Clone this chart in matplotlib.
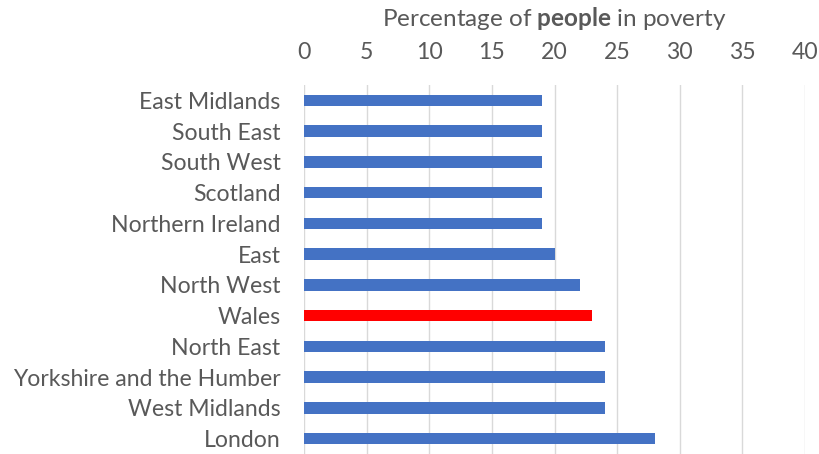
import matplotlib.pyplot as plt

regions = [
    "East Midlands", "South East", "South West", "Scotland", "Northern Ireland",
    "East", "North West", "Wales", "North East", "Yorkshire and the Humber",
    "West Midlands", "London",
]
values = [19, 19, 19, 19, 19, 20, 22, 23, 24, 24, 24, 28]
highlight = "Wales"
x_ticks = [0, 5, 10, 15, 20, 25, 30, 35, 40]

text_color = "#595959"
plt.rcParams["font.family"] = ["Lato", "DejaVu Sans"]
plt.rcParams["mathtext.fontset"] = "custom"
plt.rcParams["mathtext.bf"] = "Lato:bold"
plt.rcParams["mathtext.rm"] = "Lato"

fig = plt.figure(figsize=(8.19, 4.54), dpi=100)
ax = fig.add_axes([304 / 819, 0, (805 - 304) / 819, (454 - 85) / 454])

colors = ["#ff0000" if r == highlight else "#4472c4" for r in regions]
ax.barh(range(len(regions)), values, height=0.37, color=colors, zorder=3)

ax.set_ylim(len(regions) - 0.5, -0.5)
ax.set_xlim(0, 40)
ax.set_yticks(range(len(regions)))
ax.set_yticklabels(regions, fontsize=16.6, color=text_color)
ax.set_xticks(x_ticks)
ax.set_xticklabels([str(t) for t in x_ticks], fontsize=16.6, color=text_color)
ax.xaxis.tick_top()
ax.tick_params(axis="both", length=0)
ax.tick_params(axis="x", pad=16)
ax.tick_params(axis="y", pad=17)

ax.grid(axis="x", color="#d9d9d9", linewidth=1, zorder=0)
for spine in ax.spines.values():
    spine.set_visible(False)

fig.text(
    (304 + 805) / 2 / 819, 1 - 18 / 454,
    r"Percentage of $\bf{people}$ in poverty",
    ha="center", va="center", fontsize=17.5, color=text_color,
)

fig.savefig("out.png", dpi=100)
